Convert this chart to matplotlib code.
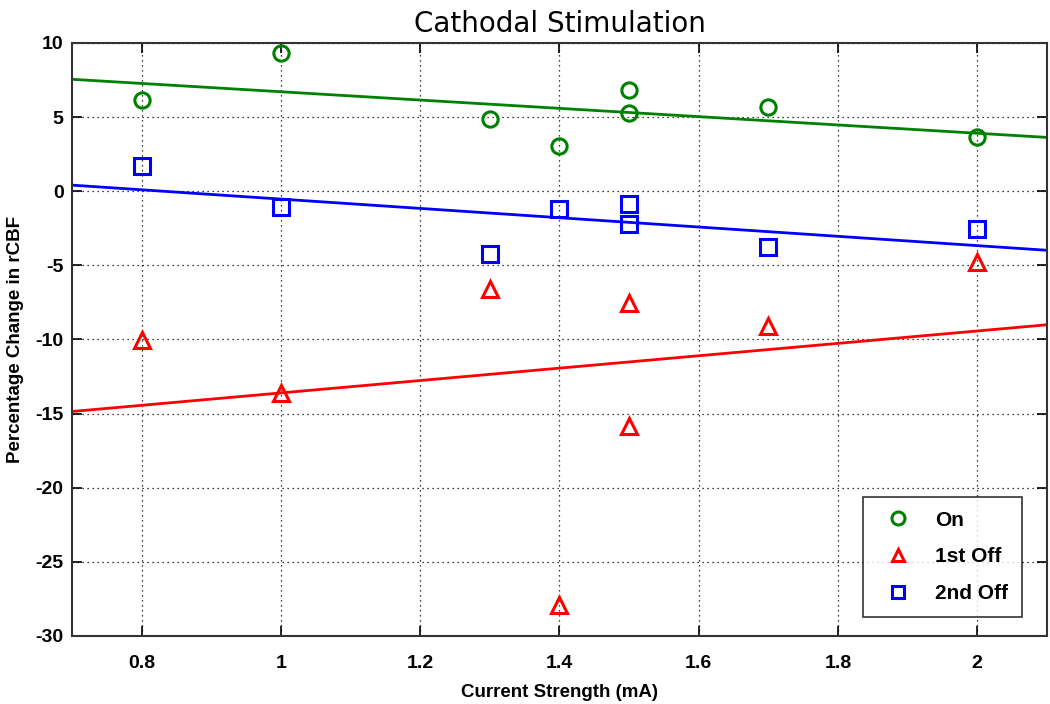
import numpy as np
import matplotlib
matplotlib.use("Agg")
import matplotlib.pyplot as plt

plt.rcParams["axes.unicode_minus"] = False

current = [0.8, 1.0, 1.3, 1.4, 1.5, 1.5, 1.7, 2.0]
on_vals = [6.14, 9.3, 4.86, 3.04, 6.8, 5.26, 5.67, 3.64]
off1_vals = [-10.05, -13.6, -6.6, -27.9, -7.56, -15.86, -9.1, -4.8]
off2_vals = [1.69, -1.08, -4.25, -1.21, -0.88, -2.23, -3.78, -2.56]
series_names = ["On", "1st Off", "2nd Off"]
xticks = [0.8, 1, 1.2, 1.4, 1.6, 1.8, 2]
xtick_labels = ["0.8", "1", "1.2", "1.4", "1.6", "1.8", "2"]
yticks = [-30, -25, -20, -15, -10, -5, 0, 5, 10]

fig = plt.figure(figsize=(10.5, 7.04), dpi=100)
ax = fig.add_axes([0.0686, 0.0966, 0.9284, 0.8424])

styles = [("o", "#008000"), ("^", "#ff0000"), ("s", "#0000ff")]
xline = np.array([0.7, 2.1])
for vals, name, (mk, col) in zip([on_vals, off1_vals, off2_vals], series_names, styles):
    ax.plot(current, vals, linestyle="none", marker=mk, markersize=11,
            markerfacecolor="none", markeredgecolor=col, markeredgewidth=2.2, label=name)
for vals, (mk, col) in zip([on_vals, off1_vals, off2_vals], styles):
    p = np.polyfit(current, vals, 1)
    ax.plot(xline, np.polyval(p, xline), color=col, linewidth=2)

ax.set_xlim(0.7, 2.1)
ax.set_ylim(-30, 10)
ax.set_xticks(xticks)
ax.set_xticklabels(xtick_labels)
ax.set_yticks(yticks)
ax.grid(True, color="black", linestyle=(0, (1, 3)), linewidth=0.9)
ax.tick_params(direction="in", top=True, right=True, length=7, width=1.2)
ax.tick_params(axis="x", pad=14)
ax.tick_params(axis="y", pad=6)
for lab in ax.get_xticklabels() + ax.get_yticklabels():
    lab.set_fontweight("bold")
    lab.set_fontsize(14)
    lab.set_family("Liberation Sans")
for s in ax.spines.values():
    s.set_linewidth(1.5)
    s.set_color("#333333")

ax.set_title("Cathodal Stimulation", fontsize=20, pad=8, family="DejaVu Sans")
ax.set_xlabel("Current Strength (mA)", fontsize=13.5, fontweight="bold", family="Liberation Sans", labelpad=8)
ax.set_ylabel("Percentage Change in rCBF", fontsize=13.5, fontweight="bold", family="Liberation Sans", labelpad=8)

leg = ax.legend(loc="lower right", bbox_to_anchor=(0.985, 0.015), frameon=True, fancybox=False,
                prop={"family": "Liberation Sans", "weight": "bold", "size": 15},
                borderpad=0.65, labelspacing=0.85, handletextpad=0.8, handlelength=2.0,
                markerscale=0.85)
leg.get_frame().set_edgecolor("black")
leg.get_frame().set_linewidth(1.2)

fig.savefig("out.png", dpi=100)
